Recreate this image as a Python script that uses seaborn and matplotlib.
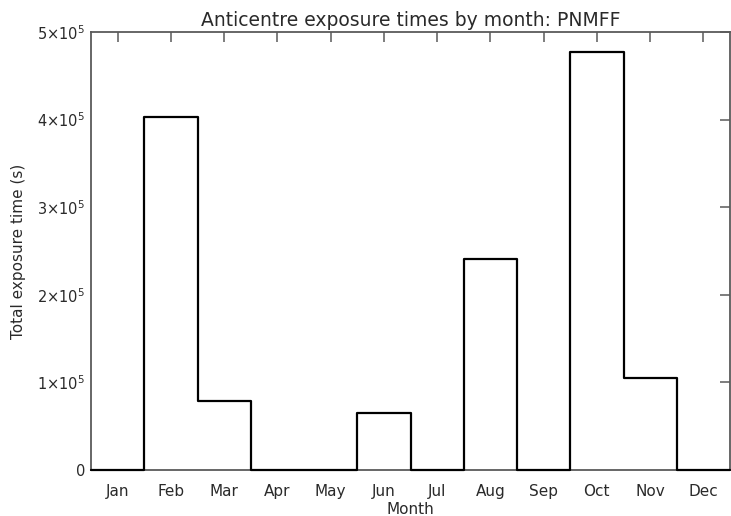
import matplotlib
matplotlib.use("Agg")
import matplotlib.pyplot as plt
import seaborn as sns
import pandas as pd

months = ["Jan", "Feb", "Mar", "Apr", "May", "Jun",
          "Jul", "Aug", "Sep", "Oct", "Nov", "Dec"]
month_num = list(range(1, 13))
exposure_s = [0, 4.03e5, 0.79e5, 0, 0, 0.65e5,
              0, 2.405e5, 0, 4.77e5, 1.045e5, 0]
ytick_vals = [0, 1e5, 2e5, 3e5, 4e5, 5e5]
ytick_labels = ["0", r"$1{\times}10^5$", r"$2{\times}10^5$",
                r"$3{\times}10^5$", r"$4{\times}10^5$", r"$5{\times}10^5$"]

sns.set_style("white")
plt.rcParams["font.family"] = ["DejaVu Sans"]
plt.rcParams["mathtext.fontset"] = "dejavusans"

df = pd.DataFrame({"month": month_num, "exposure": exposure_s})

fig = plt.figure(figsize=(7.31, 5.16), dpi=100)
ax = fig.add_axes([91 / 731, 1 - 470 / 516, 639 / 731, 438 / 516])

sns.histplot(data=df, x="month", weights="exposure", discrete=True,
             element="step", fill=False, color="black", linewidth=1.6,
             ax=ax)
# keep the zero-level steps visible on top of the bottom spine
for ln in ax.lines:
    ln.set_clip_on(False)
    ln.set_zorder(4)

ax.set_xlim(0.5, 12.5)
ax.set_ylim(0, 5e5)
ax.set_xticks(month_num)
ax.set_xticklabels(months)
ax.set_yticks(ytick_vals)
ax.set_yticklabels(ytick_labels)

axis_col = "#5a5a5a"
text_col = "#2a2a2a"
for s in ax.spines.values():
    s.set_visible(True)
    s.set_color(axis_col)
    s.set_linewidth(1.3)
ax.tick_params(axis="both", which="major", direction="in", length=7,
               width=1.1, color=axis_col, top=True, right=True,
               labelcolor=text_col)
ax.tick_params(axis="x", pad=10, labelsize=11)
ax.tick_params(axis="y", pad=4, labelsize=10.5)

ax.set_title("Anticentre exposure times by month: PNMFF",
             fontsize=13.5, color=text_col, pad=4)
ax.set_xlabel("Month", fontsize=11, color=text_col, labelpad=2)
ax.set_ylabel("Total exposure time (s)", fontsize=11, color=text_col,
              labelpad=8)

fig.savefig("out.png", dpi=100)
